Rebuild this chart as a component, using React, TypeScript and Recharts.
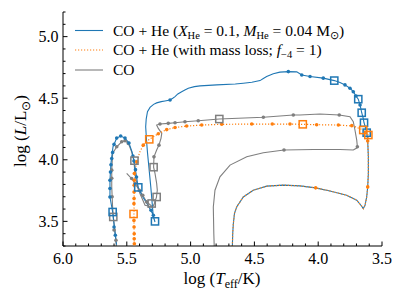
import React from 'react';
import { ComposedChart, Line, Scatter, XAxis, YAxis } from 'recharts';

type Pt = [number, number];

// log Teff, log L
const lowerTrack: Pt[] = [
  [4.675, 3.2], [4.670, 3.40], [4.665, 3.482], [4.656, 3.566], [4.639, 3.617], [4.587, 3.698],
  [4.509, 3.753], [4.404, 3.786], [4.273, 3.794], [4.143, 3.788], [4.020, 3.772], [3.908, 3.747],
  [3.777, 3.712], [3.698, 3.672], [3.659, 3.623], [3.647, 3.604], [3.633, 3.631], [3.620, 3.698],
  [3.612, 3.780], [3.607, 3.889], [3.607, 4.024], [3.612, 4.152],
];

const blueTrack: Pt[] = [
  [3.620, 4.220], [3.631, 4.268], [3.641, 4.301], [3.647, 4.337], [3.659, 4.382], [3.672, 4.445],
  [3.686, 4.492], [3.704, 4.518], [3.725, 4.553], [3.751, 4.581], [3.790, 4.608], [3.829, 4.627],
  [3.874, 4.643], [3.960, 4.663], [4.064, 4.676], [4.129, 4.689], [4.168, 4.714], [4.234, 4.716],
  [4.300, 4.712], [4.352, 4.698], [4.404, 4.676], [4.430, 4.660], [4.456, 4.643], [4.520, 4.630],
  [4.587, 4.622], [4.650, 4.615], [4.795, 4.608], [4.926, 4.600], [4.970, 4.594], [5.018, 4.581],
  [5.045, 4.567], [5.070, 4.553], [5.100, 4.535], [5.122, 4.513], [5.140, 4.500], [5.161, 4.486],
  [5.201, 4.478], [5.230, 4.472], [5.266, 4.462], [5.290, 4.450], [5.318, 4.425], [5.338, 4.390],
  [5.348, 4.330], [5.352, 4.268], [5.345, 4.150], [5.338, 4.060], [5.312, 3.780], [5.292, 3.536],
  [5.279, 3.495], [5.297, 3.560], [5.334, 3.631], [5.373, 3.696], [5.410, 3.772], [5.428, 3.891],
  [5.444, 3.997], [5.459, 4.065], [5.483, 4.136], [5.514, 4.176], [5.548, 4.193], [5.579, 4.176],
  [5.608, 4.106], [5.624, 3.973], [5.632, 3.834], [5.632, 3.698], [5.611, 3.576], [5.585, 3.346],
  [5.580, 3.310],
];

const orangeTrack: Pt[] = [
  [3.607, 4.201], [3.647, 4.242], [3.725, 4.274], [3.842, 4.282], [4.012, 4.285], [4.121, 4.288],
  [4.221, 4.290], [4.360, 4.290], [4.521, 4.290], [4.756, 4.288], [4.913, 4.282], [5.031, 4.274],
  [5.122, 4.262], [5.187, 4.245], [5.253, 4.212], [5.324, 4.166], [5.371, 4.119], [5.397, 4.065],
  [5.422, 3.983], [5.438, 3.902], [5.441, 3.834], [5.444, 3.555], [5.441, 3.2],
];

const grayTrack: Pt[] = [
  [4.812, 3.2], [4.818, 3.40], [4.822, 3.617], [4.809, 3.753], [4.770, 3.861], [4.691, 3.957],
  [4.560, 4.024], [4.430, 4.057], [4.268, 4.079], [4.038, 4.084], [3.829, 4.084], [3.725, 4.079],
  [3.698, 4.095], [3.693, 4.106], [3.698, 4.160], [3.712, 4.242], [3.725, 4.309], [3.751, 4.350],
  [3.835, 4.364], [3.986, 4.372], [4.143, 4.364], [4.195, 4.364], [4.430, 4.345], [4.775, 4.331],
  [4.940, 4.317], [5.044, 4.309], [5.122, 4.301], [5.175, 4.296], [5.240, 4.290], [5.266, 4.282],
  [5.253, 4.255], [5.226, 4.215], [5.232, 4.174], [5.248, 4.119], [5.266, 4.079], [5.287, 4.024],
  [5.290, 3.940], [5.279, 3.889], [5.266, 3.808], [5.261, 3.753], [5.268, 3.694], [5.284, 3.645],
  [5.297, 3.617], [5.357, 3.631], [5.397, 3.726], [5.422, 3.808], [5.436, 3.889], [5.444, 3.989],
  [5.462, 4.065], [5.488, 4.133], [5.514, 4.154], [5.540, 4.146], [5.579, 4.106], [5.611, 4.052],
  [5.618, 3.916], [5.618, 3.780], [5.612, 3.631], [5.606, 3.536], [5.585, 3.346], [5.577, 3.2],
];

const grayBranch: Pt[] = [
  [5.297, 3.617], [5.344, 3.658], [5.375, 3.712], [5.402, 3.753], [5.436, 3.808], [5.462, 3.848],
  [5.501, 3.889],
];

const blueDots: Pt[] = [
  [5.161, 4.486], [4.234, 4.716], [4.129, 4.689], [4.064, 4.676], [3.960, 4.663], [3.790, 4.608],
  [3.751, 4.581], [3.725, 4.553], [3.704, 4.518], [3.672, 4.445], [5.548, 4.193], [5.514, 4.176],
  [5.483, 4.136], [5.579, 4.176], [5.600, 4.125], [5.611, 4.060], [5.618, 4.010], [5.624, 3.960],
  [5.628, 3.900], [5.632, 3.834], [5.632, 3.767], [5.632, 3.698], [5.600, 3.454], [5.590, 3.387],
  [5.452, 4.030], [5.444, 3.990], [5.432, 3.920], [5.424, 3.860], [5.292, 3.549], [5.310, 3.590],
];

const orangeDots: Pt[] = [
  [3.737, 4.277], [3.842, 4.282], [4.012, 4.285], [4.221, 4.290], [4.360, 4.290], [4.521, 4.290],
  [4.756, 4.288], [4.913, 4.282], [5.031, 4.274], [5.122, 4.262], [5.187, 4.245], [5.253, 4.212],
  [4.020, 3.772], [3.612, 3.780], [3.612, 4.152], [5.371, 4.119], [5.422, 3.983], [5.441, 3.889],
  [5.441, 3.834], [5.442, 3.793], [5.443, 3.739], [5.443, 3.685], [5.444, 3.644], [5.444, 3.508],
  [5.443, 3.454], [5.442, 3.400], [5.442, 3.359], [5.441, 3.318],
];

const grayDots: Pt[] = [
  [5.240, 4.290], [5.175, 4.296], [5.122, 4.301], [5.044, 4.309], [4.940, 4.317], [4.430, 4.345],
  [4.195, 4.364], [3.835, 4.364], [3.693, 4.106], [4.268, 4.079], [5.248, 4.119], [5.287, 4.024],
  [5.344, 3.658], [5.375, 3.712], [5.402, 3.753], [5.436, 3.808], [5.462, 3.848], [5.618, 3.916],
  [5.618, 3.850], [5.615, 3.700], [5.600, 3.430], [5.585, 3.346], [5.579, 4.106], [5.540, 4.146],
  [5.514, 4.154], [5.488, 4.133],
];

const blueSquares: Pt[] = [
  [3.874, 4.643], [3.686, 4.492], [3.659, 4.382], [3.641, 4.301], [3.620, 4.220], [5.279, 3.500],
  [5.410, 3.776], [5.611, 3.576],
];
const orangeSquares: Pt[] = [[4.121, 4.288], [5.324, 4.166], [5.447, 3.560], [3.647, 4.242], [3.607, 4.201]];
const graySquares: Pt[] = [[4.775, 4.331], [5.440, 3.993], [5.290, 3.940], [5.266, 3.698], [5.305, 3.645], [5.606, 3.536]];

const xTicks = [3.5, 3.6, 3.7, 3.8, 3.9, 4.0, 4.1, 4.2, 4.3, 4.4, 4.5, 4.6, 4.7, 4.8, 4.9, 5.0, 5.1, 5.2, 5.3, 5.4, 5.5, 5.6, 5.7, 5.8, 5.9, 6.0];
const xMajor = [3.5, 4.0, 4.5, 5.0, 5.5, 6.0];
const yTicks = [3.3, 3.4, 3.5, 3.6, 3.7, 3.8, 3.9, 4.0, 4.1, 4.2, 4.3, 4.4, 4.5, 4.6, 4.7, 4.8, 4.9, 5.0, 5.1, 5.2];
const yMajor = [3.5, 4.0, 4.5, 5.0];

const BLUE = '#1f77b4';
const ORANGE = '#ff7f0e';
const GRAY = '#7f7f7f';
const FONT = 'Liberation Serif';

const toRows = (pts: Pt[]) => pts.map(([x, y]) => ({ x, y }));
const isMajor = (v: number, majors: number[]) => majors.some((m) => Math.abs(m - v) < 1e-6);

function BottomTick({ x, y, payload }: any) {
  const major = isMajor(payload.value, xMajor);
  return (
    <g>
      <line x1={x} x2={x} y1={y} y2={y - (major ? 4.5 : 2.5)} stroke="#000" />
      {major && (
        <text x={x} y={y + 18} textAnchor="middle" fontFamily={FONT} fontSize={16} fill="#000">
          {payload.value.toFixed(1)}
        </text>
      )}
    </g>
  );
}

function TopTick({ x, y, payload }: any) {
  const major = isMajor(payload.value, xMajor);
  return <line x1={x} x2={x} y1={y} y2={y + (major ? 4.5 : 2.5)} stroke="#000" />;
}

function LeftTick({ x, y, payload }: any) {
  const major = isMajor(payload.value, yMajor);
  return (
    <g>
      <line x1={x} x2={x + (major ? 4.5 : 2.5)} y1={y} y2={y} stroke="#000" />
      {major && (
        <text x={x - 4.5} y={y + 5.5} textAnchor="end" fontFamily={FONT} fontSize={16} fill="#000">
          {payload.value.toFixed(1)}
        </text>
      )}
    </g>
  );
}

function RightTick({ x, y, payload }: any) {
  const major = isMajor(payload.value, yMajor);
  return <line x1={x} x2={x - (major ? 4.5 : 2.5)} y1={y} y2={y} stroke="#000" />;
}

const dotShape = (color: string) => (p: any) => <circle cx={p.cx} cy={p.cy} r={1.8} fill={color} />;
const squareShape = (color: string) => (p: any) => (
  <rect x={p.cx - 3.6} y={p.cy - 3.6} width={7.2} height={7.2} fill="none" stroke={color} strokeWidth={1.5} />
);

const sub = { fontSize: 10.5 };

export default function App() {
  const axisLine = { stroke: '#000', strokeWidth: 1 };
  return (
    <div style={{ position: 'absolute', left: 0, top: 0, width: 406, height: 303, background: '#fff' }}>
      <ComposedChart width={406} height={303} margin={{ top: 12, right: 24, bottom: 0, left: 0 }}>
        <XAxis xAxisId="b" type="number" dataKey="x" domain={[3.5, 6]} reversed allowDataOverflow
          ticks={xTicks} interval={0} tickSize={0} tickMargin={0} height={57}
          tick={(p: any) => <BottomTick {...p} />} tickLine={false} axisLine={axisLine} />
        <XAxis xAxisId="t" orientation="top" type="number" dataKey="x" domain={[3.5, 6]} reversed allowDataOverflow
          ticks={xTicks} interval={0} tickSize={0} tickMargin={0} height={0}
          tick={(p: any) => <TopTick {...p} />} tickLine={false} axisLine={axisLine} />
        <YAxis yAxisId="l" type="number" dataKey="y" domain={[3.3, 5.2]} allowDataOverflow
          ticks={yTicks} interval={0} tickSize={0} tickMargin={0} width={63}
          tick={(p: any) => <LeftTick {...p} />} tickLine={false} axisLine={axisLine} />
        <YAxis yAxisId="r" orientation="right" type="number" dataKey="y" domain={[3.3, 5.2]} allowDataOverflow
          ticks={yTicks} interval={0} tickSize={0} tickMargin={0} width={0}
          tick={(p: any) => <RightTick {...p} />} tickLine={false} axisLine={axisLine} />

        <Line xAxisId="b" yAxisId="l" data={toRows(grayTrack)} dataKey="y" type="linear" stroke={GRAY}
          strokeWidth={1.1} dot={false} activeDot={false} isAnimationActive={false} />
        <Line xAxisId="b" yAxisId="l" data={toRows(grayBranch)} dataKey="y" type="linear" stroke={GRAY}
          strokeWidth={1.1} dot={false} activeDot={false} isAnimationActive={false} />
        <Line xAxisId="b" yAxisId="l" data={toRows([...lowerTrack, ...blueTrack])} dataKey="y" type="linear"
          stroke={BLUE} strokeWidth={1.1} dot={false} activeDot={false} isAnimationActive={false} />
        <Line xAxisId="b" yAxisId="l" data={toRows([...lowerTrack, ...orangeTrack])} dataKey="y" type="linear"
          stroke={ORANGE} strokeWidth={1.2} strokeDasharray="1.2 1.8" dot={false} activeDot={false}
          isAnimationActive={false} />

        <Scatter xAxisId="b" yAxisId="l" data={toRows(grayDots)} shape={dotShape(GRAY)} isAnimationActive={false} />
        <Scatter xAxisId="b" yAxisId="l" data={toRows(blueDots)} shape={dotShape(BLUE)} isAnimationActive={false} />
        <Scatter xAxisId="b" yAxisId="l" data={toRows(orangeDots)} shape={dotShape(ORANGE)} isAnimationActive={false} />
        <Scatter xAxisId="b" yAxisId="l" data={toRows(graySquares)} shape={squareShape(GRAY)} isAnimationActive={false} />
        <Scatter xAxisId="b" yAxisId="l" data={toRows(blueSquares)} shape={squareShape(BLUE)} isAnimationActive={false} />
        <Scatter xAxisId="b" yAxisId="l" data={toRows(orangeSquares)} shape={squareShape(ORANGE)} isAnimationActive={false} />
      </ComposedChart>

      <svg width={406} height={303} style={{ position: 'absolute', left: 0, top: 0, pointerEvents: 'none' }}
        fill="#000" fontFamily={FONT}>
        <line x1={75} x2={103} y1={30.5} y2={30.5} stroke={BLUE} strokeWidth={1.1} />
        <line x1={75} x2={103} y1={50} y2={50} stroke={ORANGE} strokeWidth={1.2} strokeDasharray="1.2 1.8" />
        <line x1={75} x2={103} y1={70} y2={70} stroke={GRAY} strokeWidth={1.1} />
        <text x={113} y={35.5} fontSize={15.5}>
          CO + He (<tspan fontStyle="italic">X</tspan><tspan {...sub} dy={3}>He</tspan>
          <tspan dy={-3}> = 0.1, </tspan><tspan fontStyle="italic">M</tspan><tspan {...sub} dy={3}>He</tspan>
          <tspan dy={-3}> = 0.04 M</tspan><tspan {...sub} dy={3}>⊙</tspan><tspan dy={-3}>)</tspan>
        </text>
        <text x={113} y={55} fontSize={15.5}>
          CO + He (with mass loss; <tspan fontStyle="italic">f</tspan><tspan {...sub} dy={3}>−4</tspan>
          <tspan dy={-3}> = 1)</tspan>
        </text>
        <text x={113} y={75} fontSize={15.5}>CO</text>

        <text x={222} y={284} fontSize={17} textAnchor="middle">
          log (<tspan fontStyle="italic">T</tspan><tspan fontSize={12} dy={3.5}>eff</tspan>
          <tspan dy={-3.5}>/K)</tspan>
        </text>
        <text x={26} y={131} fontSize={17} textAnchor="middle" transform="rotate(-90 26 131)">
          log (<tspan fontStyle="italic">L</tspan>/L<tspan fontSize={12} dy={3.5}>⊙</tspan>
          <tspan dy={-3.5}>)</tspan>
        </text>
      </svg>
    </div>
  );
}
